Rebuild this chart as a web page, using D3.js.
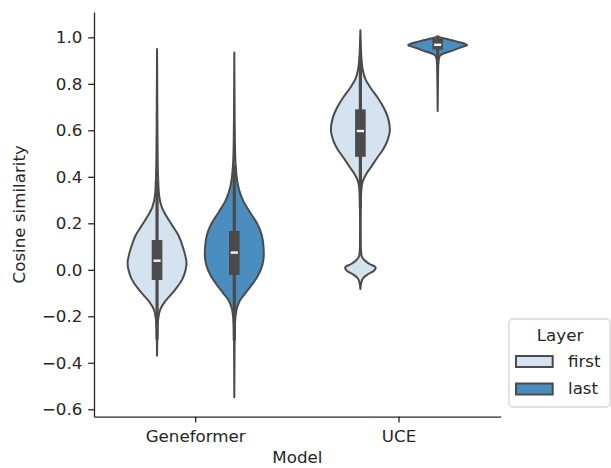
<!DOCTYPE html>
<html>
<head>
<meta charset="utf-8">
<script src="https://cdn.jsdelivr.net/npm/d3@7"></script>
<style>
  body { margin: 0; background: #fff; }
  text { font-family: "DejaVu Sans", sans-serif; }
</style>
</head>
<body>
<div id="chart"></div>
<script>
const models = ['Geneformer', 'UCE'];
const layers = ['first', 'last'];
const yTicks = [-0.6, -0.4, -0.2, 0.0, 0.2, 0.4, 0.6, 0.8, 1.0];

// violin outlines: [value, relative half width]
const geneformerFirst = [
  [0.95, 0], [0.7, 0.01], [0.5, 0.02], [0.4, 0.035], [0.32, 0.07], [0.27, 0.16],
  [0.23, 0.32], [0.19, 0.52], [0.15, 0.72], [0.1, 0.87], [0.06, 0.96], [0.03, 1.0],
  [0.0, 0.97], [-0.04, 0.86], [-0.08, 0.65], [-0.11, 0.45], [-0.14, 0.25],
  [-0.17, 0.11], [-0.21, 0.04], [-0.26, 0.015], [-0.37, 0]
];
const geneformerLast = [
  [0.935, 0], [0.7, 0.01], [0.55, 0.02], [0.45, 0.045], [0.4, 0.08], [0.35, 0.15],
  [0.3, 0.29], [0.25, 0.52], [0.2, 0.77], [0.15, 0.93], [0.1, 0.99], [0.065, 1.0],
  [0.02, 0.95], [-0.03, 0.78], [-0.07, 0.56], [-0.1, 0.38], [-0.13, 0.2],
  [-0.16, 0.1], [-0.2, 0.04], [-0.26, 0.015], [-0.4, 0.006], [-0.548, 0]
];
const uceFirst = [
  [1.03, 0], [0.98, 0.012], [0.92, 0.03], [0.86, 0.08], [0.82, 0.17], [0.78, 0.36],
  [0.74, 0.59], [0.7, 0.78], [0.66, 0.92], [0.62, 0.99], [0.6, 1.0], [0.56, 0.93],
  [0.52, 0.78], [0.48, 0.56], [0.44, 0.35], [0.41, 0.19], [0.38, 0.08], [0.34, 0.03],
  [0.28, 0.015], [0.2, 0.012], [0.1, 0.015], [0.06, 0.04], [0.04, 0.15],
  [0.025, 0.31], [0.01, 0.52], [-0.005, 0.45], [-0.02, 0.25], [-0.035, 0.1],
  [-0.05, 0.04], [-0.083, 0]
];
const uceLast = [
  [1.005, 0], [1.0, 0.08], [0.99, 0.4], [0.98, 0.7], [0.967, 1.0], [0.955, 0.75],
  [0.945, 0.55], [0.935, 0.3], [0.925, 0.12], [0.91, 0.04], [0.88, 0.02],
  [0.8, 0.01], [0.683, 0]
];

// inner box: [whisker low, q1, median, q3, whisker high]
const geneformerFirstBox = [-0.30, -0.044, 0.039, 0.128, 0.385];
const geneformerLastBox = [-0.305, -0.022, 0.074, 0.167, 0.45];
const uceFirstBox = [0.264, 0.486, 0.597, 0.69, 0.917];
const uceLastBox = [0.885, 0.947, 0.968, 0.993, 1.0];

const violins = [
  {model: 'Geneformer', layer: 'first', profile: geneformerFirst, box: geneformerFirstBox},
  {model: 'Geneformer', layer: 'last', profile: geneformerLast, box: geneformerLastBox},
  {model: 'UCE', layer: 'first', profile: uceFirst, box: uceFirstBox},
  {model: 'UCE', layer: 'last', profile: uceLast, box: uceLastBox}
];

const W = 611, H = 468;
const fontSize = 16.7;
const gray = '#4b4b4b';
const colors = d3.scaleOrdinal().domain(layers).range(['#d5e3f0', '#4a8ebf']);

const svg = d3.select('#chart').append('svg')
  .attr('width', W)
  .attr('height', H);

const x = d3.scaleBand().domain(models).range([94, 500.7]);
const y = d3.scaleLinear().domain([-0.632, 1.109]).range([416.7, 12]);
const hueOffset = d3.scalePoint().domain(layers).range([-0.19, 0.19]);
const halfWidth = x.bandwidth() * 0.145;

function center(d) {
  return x(d.model) + x.bandwidth() / 2 + hueOffset(d.layer) * x.bandwidth();
}

// Violins
const groups = svg.append('g')
  .selectAll('g')
  .data(violins)
  .enter()
  .append('g');

groups.append('path')
  .attr('d', function(d) {
    const cx = center(d);
    return d3.area()
      .curve(d3.curveMonotoneY)
      .y(p => y(p[0]))
      .x0(p => cx - p[1] * halfWidth)
      .x1(p => cx + p[1] * halfWidth)(d.profile);
  })
  .attr('fill', d => colors(d.layer))
  .attr('stroke', gray)
  .attr('stroke-width', 2)
  .attr('stroke-linejoin', 'round');

// whiskers
groups.append('line')
  .attr('x1', d => center(d))
  .attr('x2', d => center(d))
  .attr('y1', d => y(d.box[0]))
  .attr('y2', d => y(d.box[4]))
  .attr('stroke', gray)
  .attr('stroke-width', 3.2);

// boxes
groups.append('rect')
  .attr('x', d => center(d) - 5.3)
  .attr('width', 10.6)
  .attr('y', d => y(d.box[3]))
  .attr('height', d => y(d.box[1]) - y(d.box[3]))
  .attr('fill', gray);

// medians
groups.append('line')
  .attr('x1', d => center(d) - 3.6)
  .attr('x2', d => center(d) + 3.6)
  .attr('y1', d => y(d.box[2]))
  .attr('y2', d => y(d.box[2]))
  .attr('stroke', '#f4f4f4')
  .attr('stroke-width', 2.4);

// Axes
const yAxis = d3.axisLeft(y)
  .tickValues(yTicks)
  .tickFormat(d3.format('.1f'))
  .tickSize(5.8)
  .tickSizeOuter(0)
  .tickPadding(5.8);
const yAxisGroup = svg.append('g')
  .attr('transform', 'translate(94,0)')
  .call(yAxis);

const xAxis = d3.axisBottom(x)
  .tickSize(5.8)
  .tickSizeOuter(0)
  .tickPadding(7.4);
const xAxisGroup = svg.append('g')
  .attr('transform', 'translate(0,416.7)')
  .call(xAxis);

[yAxisGroup, xAxisGroup].forEach(function(g) {
  g.select('.domain').attr('stroke', '#262626').attr('stroke-width', 1.3);
  g.selectAll('.tick line').attr('stroke', '#262626').attr('stroke-width', 1.3);
  g.selectAll('text')
    .attr('font-size', fontSize)
    .attr('font-family', '"DejaVu Sans", sans-serif')
    .attr('fill', '#262626');
});

svg.append('text')
  .text('Cosine similarity')
  .attr('transform', 'translate(25,214.3) rotate(-90)')
  .attr('text-anchor', 'middle')
  .attr('font-size', fontSize)
  .attr('fill', '#262626');

svg.append('text')
  .text('Model')
  .attr('x', 297.4)
  .attr('y', 463)
  .attr('text-anchor', 'middle')
  .attr('font-size', fontSize)
  .attr('fill', '#262626');

// Legend
const legend = svg.append('g').attr('transform', 'translate(509,319)');

legend.append('rect')
  .attr('width', 101)
  .attr('height', 88)
  .attr('rx', 4)
  .attr('fill', '#fff')
  .attr('fill-opacity', 0.8)
  .attr('stroke', '#d6d6d6')
  .attr('stroke-width', 1.3);

legend.append('text')
  .text('Layer')
  .attr('x', 51)
  .attr('y', 21.5)
  .attr('text-anchor', 'middle')
  .attr('font-size', fontSize)
  .attr('fill', '#262626');

const items = legend.selectAll('.item')
  .data(layers)
  .enter()
  .append('g')
  .attr('class', 'item')
  .attr('transform', (d, i) => 'translate(0,' + (37 + i * 27.5) + ')');

items.append('rect')
  .attr('x', 7)
  .attr('y', 0)
  .attr('width', 36.7)
  .attr('height', 11)
  .attr('fill', d => colors(d))
  .attr('stroke', gray)
  .attr('stroke-width', 2);

items.append('text')
  .text(d => d)
  .attr('x', 59)
  .attr('y', 10.8)
  .attr('font-size', fontSize)
  .attr('fill', '#262626');
</script>
</body>
</html>
